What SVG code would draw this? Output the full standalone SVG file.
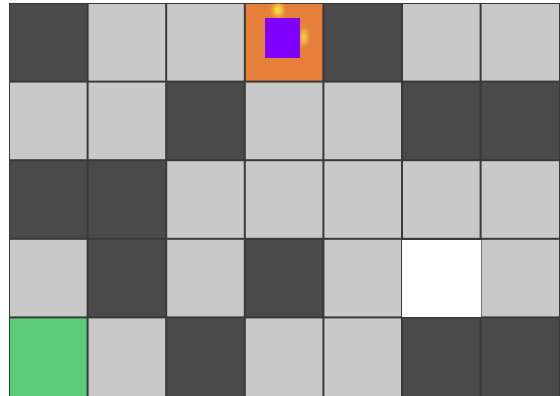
<svg xmlns="http://www.w3.org/2000/svg" width="560" height="396" viewBox="0 0 560 396">
<defs>
<style>
.d{fill:#4b4a4a}
.l{fill:#c9c9c9}
</style>
<filter id="b" x="-50%" y="-50%" width="200%" height="200%"><feGaussianBlur stdDeviation="2"/></filter>
</defs>
<rect width="560" height="396" fill="#ffffff"/>
<rect x="9" y="3" width="551" height="393" fill="#3a3939"/>
<g id="r0">
<rect class="d" x="10" y="4" width="76.6" height="76.6"/>
<rect class="l" x="88.6" y="4" width="76.6" height="76.6"/>
<rect class="l" x="167.2" y="4" width="76.6" height="76.6"/>
<rect x="245.8" y="4" width="76.6" height="76.6" fill="#e57f3a"/>
<rect class="d" x="324.4" y="4" width="76.6" height="76.6"/>
<rect class="l" x="403" y="4" width="76.6" height="76.6"/>
<rect class="l" x="481.6" y="4" width="77.4" height="76.6"/>
</g>
<g id="r1">
<rect class="l" x="10" y="82.6" width="76.6" height="76.6"/>
<rect class="l" x="88.6" y="82.6" width="76.6" height="76.6"/>
<rect class="d" x="167.2" y="82.6" width="76.6" height="76.6"/>
<rect class="l" x="245.8" y="82.6" width="76.6" height="76.6"/>
<rect class="l" x="324.4" y="82.6" width="76.6" height="76.6"/>
<rect class="d" x="403" y="82.6" width="76.6" height="76.6"/>
<rect class="d" x="481.6" y="82.6" width="77.4" height="76.6"/>
</g>
<g id="r2">
<rect class="d" x="10" y="161.2" width="76.6" height="76.6"/>
<rect class="d" x="88.6" y="161.2" width="76.6" height="76.6"/>
<rect class="l" x="167.2" y="161.2" width="76.6" height="76.6"/>
<rect class="l" x="245.8" y="161.2" width="76.6" height="76.6"/>
<rect class="l" x="324.4" y="161.2" width="76.6" height="76.6"/>
<rect class="l" x="403" y="161.2" width="76.6" height="76.6"/>
<rect class="l" x="481.6" y="161.2" width="77.4" height="76.6"/>
</g>
<g id="r3">
<rect class="l" x="10" y="239.8" width="76.6" height="76.6"/>
<rect class="d" x="88.6" y="239.8" width="76.6" height="76.6"/>
<rect class="l" x="167.2" y="239.8" width="76.6" height="76.6"/>
<rect class="d" x="245.8" y="239.8" width="76.6" height="76.6"/>
<rect class="l" x="324.4" y="239.8" width="76.6" height="76.6"/>
<rect x="402" y="240" width="79" height="77" fill="#ffffff"/>
<rect class="l" x="481.6" y="239.8" width="77.4" height="76.6"/>
</g>
<g id="r4">
<rect x="10" y="318.4" width="76.6" height="77.6" fill="#5ccb78"/>
<rect class="l" x="88.6" y="318.4" width="76.6" height="77.6"/>
<rect class="d" x="167.2" y="318.4" width="76.6" height="77.6"/>
<rect class="l" x="245.8" y="318.4" width="76.6" height="77.6"/>
<rect class="l" x="324.4" y="318.4" width="76.6" height="77.6"/>
<rect class="d" x="403" y="318.4" width="76.6" height="77.6"/>
<rect class="d" x="481.6" y="318.4" width="77.4" height="77.6"/>
</g>
<g id="agent">
<ellipse cx="278" cy="10" rx="5" ry="6" fill="#f5e23a" filter="url(#b)"/>
<ellipse cx="304" cy="37" rx="3" ry="8" fill="#f3d94a" filter="url(#b)"/>
<rect x="265" y="18" width="35" height="40" fill="#8000ff"/>
</g>
</svg>
